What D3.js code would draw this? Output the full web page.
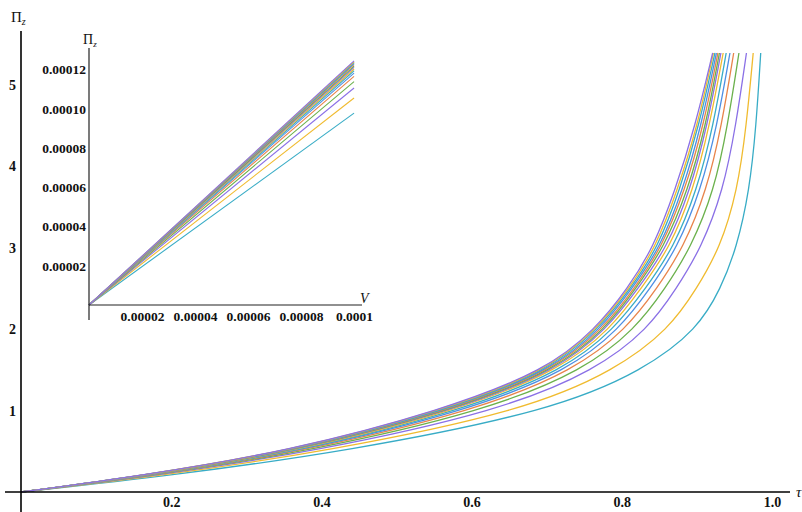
<!DOCTYPE html>
<html>
<head>
<meta charset="utf-8">
<script src="https://cdn.jsdelivr.net/npm/d3@7"></script>
<style>
    body { margin: 0; background: #fff; }
    svg text { font-family: "Liberation Serif", serif; }
</style>
</head>
<body>
<svg id="chart" width="802" height="512"></svg>
<script>
const piLevels = [0, 0.2, 0.5, 1, 1.5, 2, 2.5, 3, 3.7, 4.5, 5.39];

// tau of each curve at those levels, lowest (rightmost) curve first
const tauByCurve = [
    [0, 0.198, 0.435, 0.708, 0.830, 0.901, 0.932, 0.953, 0.970, 0.979, 0.985],
    [0, 0.187, 0.408, 0.671, 0.792, 0.863, 0.900, 0.931, 0.954, 0.966, 0.975],
    [0, 0.179, 0.393, 0.639, 0.766, 0.835, 0.873, 0.906, 0.935, 0.952, 0.966],
    [0, 0.174, 0.384, 0.620, 0.750, 0.818, 0.858, 0.892, 0.923, 0.941, 0.956],
    [0, 0.171, 0.377, 0.606, 0.738, 0.806, 0.847, 0.882, 0.913, 0.933, 0.949],
    [0, 0.169, 0.372, 0.596, 0.730, 0.797, 0.838, 0.874, 0.905, 0.927, 0.944],
    [0, 0.167, 0.369, 0.588, 0.724, 0.790, 0.832, 0.869, 0.900, 0.922, 0.939],
    [0, 0.165, 0.366, 0.582, 0.718, 0.785, 0.826, 0.864, 0.895, 0.917, 0.935],
    [0, 0.164, 0.363, 0.577, 0.715, 0.780, 0.822, 0.860, 0.891, 0.914, 0.932],
    [0, 0.163, 0.362, 0.574, 0.712, 0.778, 0.819, 0.856, 0.888, 0.912, 0.930],
    [0, 0.163, 0.360, 0.571, 0.709, 0.775, 0.817, 0.853, 0.884, 0.909, 0.928],
    [0, 0.162, 0.359, 0.568, 0.707, 0.772, 0.814, 0.851, 0.881, 0.906, 0.926],
    [0, 0.161, 0.357, 0.565, 0.704, 0.769, 0.812, 0.848, 0.877, 0.903, 0.924],
    [0, 0.161, 0.356, 0.562, 0.702, 0.767, 0.810, 0.845, 0.874, 0.901, 0.922],
    [0, 0.160, 0.355, 0.560, 0.700, 0.765, 0.808, 0.842, 0.871, 0.898, 0.921]
];

// inset: Pi_z reached by each straight line at V = 0.0001
const insetV = [0, 0.0001];
const insetEnds = [
    0.0000978, 0.0001055, 0.0001106, 0.0001139, 0.0001165, 0.0001182, 0.0001194,
    0.0001203, 0.0001211, 0.0001218, 0.0001225, 0.0001231, 0.0001236, 0.0001240, 0.0001244
];

const curveColors = ["#38acc6", "#f0bb2f", "#8a70e6", "#6bb14c", "#e8844b", "#4e8ee4"];

const mainTicksX = [0.2, 0.4, 0.6, 0.8, 1.0];
const mainTickLabelsX = ["0.2", "0.4", "0.6", "0.8", "1.0"];
const mainTicksY = [1, 2, 3, 4, 5];
const insetTicksX = [0.00002, 0.00004, 0.00006, 0.00008, 0.0001];
const insetTickLabelsX = ["0.00002", "0.00004", "0.00006", "0.00008", "0.0001"];
const insetTicksY = [0.00002, 0.00004, 0.00006, 0.00008, 0.00010, 0.00012];
const insetTickLabelsY = ["0.00002", "0.00004", "0.00006", "0.00008", "0.00010", "0.00012"];

const svg = d3.select("#chart");

// main scales
const x = d3.scaleLinear().domain([0, 1.024]).range([21, 790]);
const y = d3.scaleLinear().domain([0, 5.39]).range([492, 53]);

// curves (basis smooths the hand-read points)
const line = d3.line()
    .x(d => x(d[0]))
    .y(d => y(d[1]))
    .curve(d3.curveBasis);

tauByCurve.forEach((taus, i) => {
    const pts = taus.map((t, k) => [t, piLevels[k]]);
    svg.append("path")
        .attr("d", line(pts))
        .attr("fill", "none")
        .attr("stroke", curveColors[i % curveColors.length])
        .attr("stroke-width", 1.3);
});

// main axes lines
svg.append("line")
    .attr("x1", 5).attr("x2", 790)
    .attr("y1", y(0)).attr("y2", y(0))
    .attr("stroke", "#000").attr("stroke-width", 1.6);
svg.append("line")
    .attr("x1", x(0)).attr("x2", x(0))
    .attr("y1", 31).attr("y2", 512)
    .attr("stroke", "#000").attr("stroke-width", 1.6);

// main tick labels
const gx = svg.append("g")
    .attr("transform", `translate(0,${y(0)})`)
    .call(d3.axisBottom(x).tickValues(mainTicksX)
        .tickFormat((d, i) => mainTickLabelsX[i])
        .tickSize(0).tickPadding(5));
const gy = svg.append("g")
    .attr("transform", `translate(${x(0)},0)`)
    .call(d3.axisLeft(y).tickValues(mainTicksY)
        .tickFormat(d3.format("d"))
        .tickSize(0).tickPadding(5));
[gx, gy].forEach(g => {
    g.select(".domain").remove();
    g.selectAll("text")
        .attr("font-family", "Liberation Serif, serif")
        .attr("font-weight", "bold")
        .attr("font-size", 14)
        .attr("fill", "#111");
});

// main axis labels
const piMain = svg.append("text").attr("x", 11).attr("y", 22)
    .attr("font-size", 15).attr("fill", "#111");
piMain.append("tspan").text("Π");
piMain.append("tspan").attr("font-size", 10).attr("dy", 3).attr("font-style", "italic").text("z");

svg.append("text").attr("x", 796).attr("y", 497)
    .attr("font-size", 15).attr("font-style", "italic").attr("fill", "#111")
    .text("τ");

// inset
const ix = d3.scaleLinear().domain([0, 0.000103]).range([89, 362]);
const iy = d3.scaleLinear().domain([0, 0.000131]).range([305, 48]);

const insetLine = d3.line()
    .x(d => ix(d[0]))
    .y(d => iy(d[1]));

insetEnds.forEach((v, i) => {
    svg.append("path")
        .attr("d", insetLine([[insetV[0], 0], [insetV[1], v]]))
        .attr("fill", "none")
        .attr("stroke", curveColors[i % curveColors.length])
        .attr("stroke-width", 1.1);
});

svg.append("line")
    .attr("x1", ix(0)).attr("x2", ix(0.000103))
    .attr("y1", iy(0)).attr("y2", iy(0))
    .attr("stroke", "#222").attr("stroke-width", 1.2);
svg.append("line")
    .attr("x1", ix(0)).attr("x2", ix(0))
    .attr("y1", iy(0.000131)).attr("y2", iy(0) + 15)
    .attr("stroke", "#222").attr("stroke-width", 1.2);

const igx = svg.append("g")
    .attr("transform", `translate(0,${iy(0)})`)
    .call(d3.axisBottom(ix).tickValues(insetTicksX)
        .tickFormat((d, i) => insetTickLabelsX[i])
        .tickSize(0).tickPadding(6));
const igy = svg.append("g")
    .attr("transform", `translate(${ix(0)},0)`)
    .call(d3.axisLeft(iy).tickValues(insetTicksY)
        .tickFormat((d, i) => insetTickLabelsY[i])
        .tickSize(0).tickPadding(3));
[igx, igy].forEach(g => {
    g.select(".domain").remove();
    g.selectAll("text")
        .attr("font-family", "Liberation Serif, serif")
        .attr("font-weight", "bold")
        .attr("font-size", 13.5)
        .attr("fill", "#111");
});

const piInset = svg.append("text").attr("x", 83).attr("y", 44)
    .attr("font-size", 14).attr("fill", "#111");
piInset.append("tspan").text("Π");
piInset.append("tspan").attr("font-size", 9).attr("dy", 3).attr("font-style", "italic").text("z");

svg.append("text").attr("x", 360).attr("y", 303)
    .attr("font-size", 14).attr("font-style", "italic").attr("fill", "#111")
    .text("V");
</script>
</body>
</html>
